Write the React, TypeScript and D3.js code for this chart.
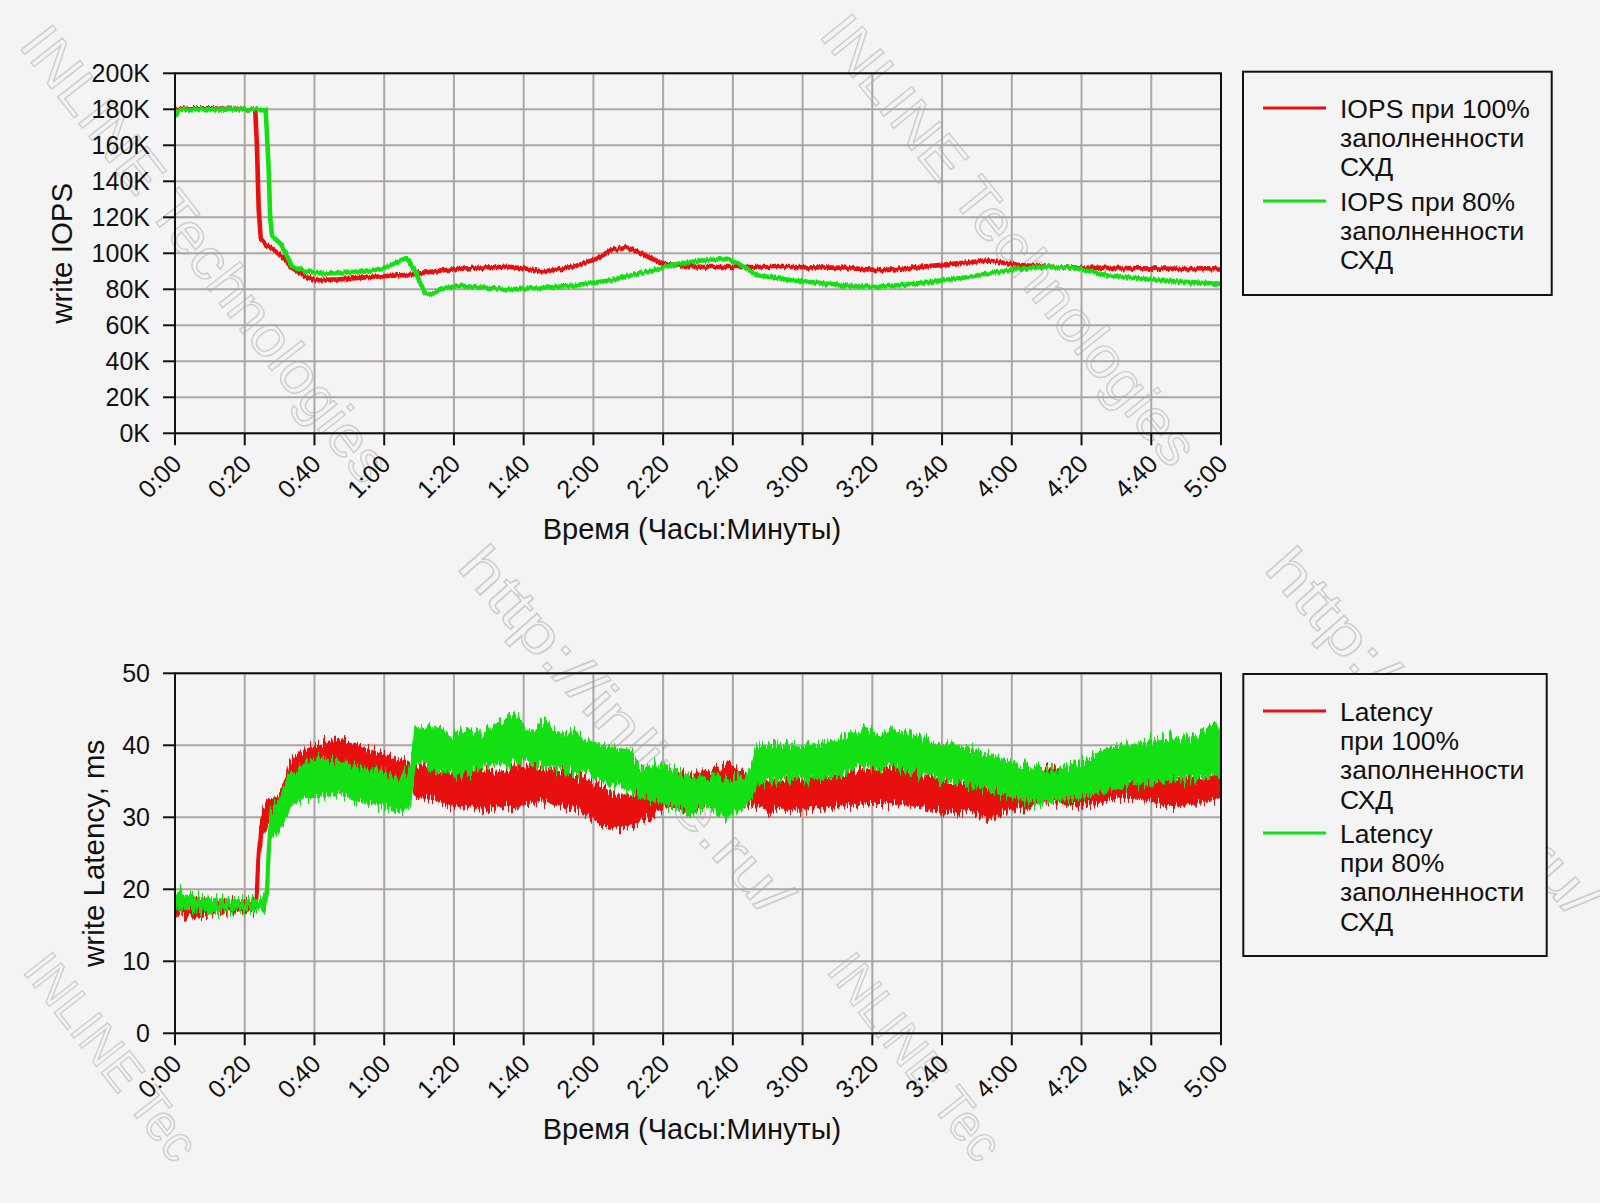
import React from 'react';
import * as d3 from 'd3';

// ---------- data ----------
const timeTicks = [0, 20, 40, 60, 80, 100, 120, 140, 160, 180, 200, 220, 240, 260, 280, 300];
const timeTickLabels = ['0:00', '0:20', '0:40', '1:00', '1:20', '1:40', '2:00', '2:20', '2:40', '3:00', '3:20', '3:40', '4:00', '4:20', '4:40', '5:00'];
const iopsTicks = [0, 20, 40, 60, 80, 100, 120, 140, 160, 180, 200];
const iopsTickLabels = ['0K', '20K', '40K', '60K', '80K', '100K', '120K', '140K', '160K', '180K', '200K'];
const latencyTicks = [0, 10, 20, 30, 40, 50];
const latencyTickLabels = ['0', '10', '20', '30', '40', '50'];

// IOPS, thousands
const iops100Minutes = [0, 5, 10, 15, 20, 23, 23.5, 24, 24.6, 26, 27.7, 30.6, 33.5, 37.4, 40.3, 47, 57, 66.8, 76.5, 86, 95.6, 100.5, 105, 110, 115, 121, 125, 129, 133, 136.7, 140.6, 146.4, 151, 160, 177, 192, 203, 217, 233, 242, 252, 267, 282, 300];
const iops100Values = [180, 180.5, 180.5, 180.3, 180, 180, 160, 125, 108, 105, 102.6, 98.5, 92, 87, 85, 85.5, 87, 88, 90.5, 92, 92.5, 91.5, 90, 91, 93, 97, 101.7, 103.5, 100.7, 97, 94, 93, 92.5, 92.4, 92.4, 91.9, 90.5, 93, 96, 93.5, 92.4, 91.9, 91.5, 91];
const iops80Minutes = [0, 1, 5, 10, 15, 20, 26, 26.8, 27.3, 27.8, 28.6, 30.6, 32, 33.5, 37.4, 42, 52, 57, 62, 66, 67, 69, 71.5, 73, 77, 82, 86, 95.6, 105, 115, 125, 134.8, 144.6, 151, 158.5, 162.4, 167, 177, 192, 201, 212, 227, 242, 252, 259, 267, 277, 287, 300];
const iops80Values = [176, 179.5, 180, 180, 179.8, 180, 180, 150, 120, 110, 108.5, 104.5, 99, 93, 90, 88.7, 89.3, 90.5, 93.3, 97.4, 96, 89.6, 78.5, 77, 80.4, 82, 81.3, 80, 80.7, 82.2, 85, 89.6, 94.3, 96, 97, 93.3, 87.8, 85, 82.2, 81.3, 83, 86.7, 91.5, 92.4, 91.9, 87.8, 86, 84.4, 83];

// Latency, ms: lower / upper envelope of the noisy trace
const latency100Minutes = [0, 5, 10, 15, 20, 23, 23.5, 24.3, 25, 26.5, 29.3, 31.2, 33, 37, 41.7, 47.4, 52, 56, 60.8, 65.5, 69.3, 75, 79.8, 84.6, 89, 94, 100, 104.8, 110.5, 116.3, 120, 125.8, 130.6, 135.4, 140.2, 146.9, 152.6, 159.3, 164, 170.8, 180.4, 190, 200, 207, 214, 220.6, 228, 233, 239.7, 245.5, 251, 257, 264.6, 271, 279, 285.6, 293.3, 300];
const latency100Low = [16.5, 16.2, 16.6, 16.7, 16.8, 17, 17.5, 24, 27.3, 28.7, 30, 31, 34.2, 34.2, 35.6, 35.6, 36, 34.7, 34.2, 33.8, 32.8, 32.4, 31.5, 31.5, 31, 31.5, 31.5, 32.4, 31.5, 31, 29.6, 28.2, 29.1, 29.6, 31.5, 31, 31.9, 32.8, 31.9, 31, 31, 31.5, 32, 31.9, 31.5, 30.5, 31, 29.6, 31, 31.5, 32.4, 31.5, 31.9, 32.8, 32.4, 31.5, 31.9, 32.8];
const latency100High = [18.5, 18.3, 18.2, 18.3, 18.2, 18.8, 24, 29, 30.5, 32.4, 32.8, 34.5, 38, 39.3, 40.2, 41, 40, 39.3, 38.6, 37.9, 37, 37, 36.5, 37, 36.5, 36.5, 37.5, 36.5, 36.3, 35.6, 34.7, 33.3, 32.8, 34.2, 35.6, 36, 36.5, 37.5, 35.6, 35.2, 35.6, 36, 36.8, 37, 36, 35.2, 35.2, 34.7, 34.2, 34.7, 37, 35.2, 35.2, 35.2, 35.6, 35.6, 36, 36];
const latency80Minutes = [0, 3, 8, 15, 20, 25, 26, 26.8, 27.4, 30.3, 33, 37, 41.7, 46.5, 51.2, 56, 60.8, 64.6, 67.4, 68.9, 71.2, 75, 79.8, 84.6, 89, 97, 101.7, 105.3, 110.5, 118.2, 124, 130.6, 133.5, 139.2, 144, 146.9, 152.6, 158.4, 164, 167, 171.8, 180.4, 190, 196.7, 202.4, 205.3, 211, 218.7, 226.3, 233, 239.7, 247.4, 253, 260.8, 268.4, 276, 285.6, 293.3, 298.6, 300];
const latency80Low = [17.5, 17, 16.9, 17, 17, 17, 17.5, 20, 27.3, 28.7, 31.5, 32.8, 32.8, 33.3, 32.4, 31.9, 31.5, 30.3, 31.5, 37, 37.5, 36.5, 36, 36, 37, 37.5, 37.9, 37, 36.5, 36, 34.7, 33.8, 32.8, 31.9, 31.5, 30.5, 31.5, 30, 31.5, 34.7, 35.2, 35.2, 35.6, 37, 36.5, 37, 36.5, 35.2, 34.7, 33.8, 32.8, 31.9, 32.4, 32.8, 33.8, 34.7, 35.2, 35.6, 36, 36];
const latency80High = [19.5, 19.3, 18.8, 18.6, 18.5, 18.5, 20, 27.8, 31, 32.8, 36, 37.5, 38.4, 37.5, 37, 36.5, 36, 35.6, 37, 42, 43, 42, 41.6, 42, 42, 44.4, 41.6, 43.2, 42, 41, 39.8, 39.3, 37, 37.5, 36.5, 36, 35.6, 35.2, 36, 39.8, 40.2, 39.8, 40.7, 42.5, 41.6, 42.5, 41.6, 40.2, 39.8, 38.8, 37.5, 37, 36.5, 37.9, 39.8, 40.2, 41, 41, 43, 40.7];

const iopsLegend = [
  ['IOPS при 100%', 'заполненности', 'СХД'],
  ['IOPS при 80%', 'заполненности', 'СХД'],
];
const latencyLegend = [
  ['Latency', 'при 100%', 'заполненности', 'СХД'],
  ['Latency', 'при 80%', 'заполненности', 'СХД'],
];

// ---------- style ----------
const RED = '#e80f0f';
const GREEN = '#12e012';
const GRID = '#aba6a2';
const BG = '#f4f4f4';
const FONT = '"Liberation Sans", Arial, sans-serif';
const PLOT_L = 175;
const PLOT_R = 1221;

type Line = { minutes: number[]; values: number[]; color: string };
type Band = { minutes: number[]; low: number[]; high: number[]; color: string; filter: string };

function Panel(props: {
  top: number; bottom: number; yMax: number; yTicks: number[]; yTickLabels: string[];
  yTitle: string; yTitleX: number; lines: Line[]; bands: Band[];
  legend: string[][]; legendBox: [number, number, number, number]; legendLineY: number[]; legendGap: number;
}) {
  const { top, bottom } = props;
  const x = d3.scaleLinear().domain([0, 300]).range([PLOT_L, PLOT_R]);
  const y = d3.scaleLinear().domain([0, props.yMax]).range([bottom, top]);
  const colors = [RED, GREEN];
  const [lx, ly, lw, lh] = props.legendBox;
  const clipId = 'clip' + Math.round(top);
  return (
    <g>
      <defs>
        <clipPath id={clipId}>
          <rect x={PLOT_L} y={top} width={PLOT_R - PLOT_L} height={bottom - top} />
        </clipPath>
      </defs>
      {props.yTicks.map((t) => (
        <line key={'gy' + t} x1={PLOT_L} x2={PLOT_R} y1={y(t)} y2={y(t)} stroke={GRID} strokeWidth={2} />
      ))}
      {timeTicks.map((t) => (
        <line key={'gx' + t} x1={x(t)} x2={x(t)} y1={top} y2={bottom} stroke={GRID} strokeWidth={2} />
      ))}
      <g clipPath={`url(#${clipId})`}>
        {props.bands.map((b, k) => {
          const area = d3.area<number>()
            .x((_, i) => x(b.minutes[i]))
            .y0((_, i) => y(b.low[i]))
            .y1((_, i) => y(b.high[i]));
          return (
            <path key={'b' + k} d={area(b.low) || ''} fill={b.color} stroke={b.color} strokeWidth={1.5}
              filter={`url(#${b.filter})`} />
          );
        })}
        {props.lines.map((s, k) => {
          const line = d3.line<number>().x((_, i) => x(s.minutes[i])).y((v) => y(v));
          return (
            <path key={'l' + k} d={line(s.values) || ''} fill="none" stroke={s.color} strokeWidth={4.6}
              strokeLinejoin="round" filter="url(#jitterSmall)" />
          );
        })}
      </g>
      <rect x={PLOT_L} y={top} width={PLOT_R - PLOT_L} height={bottom - top} fill="none" stroke="#111" strokeWidth={2} />
      {props.yTicks.map((t, i) => (
        <g key={'yt' + t}>
          <line x1={PLOT_L - 12} x2={PLOT_L} y1={y(t)} y2={y(t)} stroke="#111" strokeWidth={2} />
          <text x={150} y={y(t)} dy="0.36em" textAnchor="end" fontSize={25} fontFamily={FONT} fill="#111">
            {props.yTickLabels[i]}
          </text>
        </g>
      ))}
      {timeTicks.map((t, i) => (
        <g key={'xt' + t}>
          <line x1={x(t)} x2={x(t)} y1={bottom} y2={bottom + 12} stroke="#111" strokeWidth={2} />
          <text transform={`translate(${x(t) + 8},${bottom + 32}) rotate(-45)`} textAnchor="end"
            fontSize={25} fontFamily={FONT} fill="#111">
            {timeTickLabels[i]}
          </text>
        </g>
      ))}
      <text x={(PLOT_L + PLOT_R) / 2 - 6} y={bottom + 106} textAnchor="middle" fontSize={29} fontFamily={FONT} fill="#111">
        Время (Часы:Минуты)
      </text>
      <text transform={`translate(${props.yTitleX},${(top + bottom) / 2}) rotate(-90)`} textAnchor="middle"
        fontSize={29.5} fontFamily={FONT} fill="#111">
        {props.yTitle}
      </text>
      <rect x={lx} y={ly} width={lw} height={lh} fill={BG} stroke="#111" strokeWidth={2} />
      {props.legend.map((entry, k) => (
        <g key={'lg' + k}>
          <line x1={1263} x2={1326} y1={props.legendLineY[k]} y2={props.legendLineY[k]} stroke={colors[k]} strokeWidth={3} />
          {entry.map((txt, j) => (
            <text key={j} x={1340} y={props.legendLineY[k] + j * props.legendGap} dy="0.36em"
              fontSize={26.5} fontFamily={FONT} fill="#111">
              {txt}
            </text>
          ))}
        </g>
      ))}
    </g>
  );
}

// faint diagonal watermarks of the source image (start point, angle, text length)
const watermarks = [
  { text: 'INLINE Technologies', sx: 34, sy: 33, angle: 52, len: 560, size: 58 },
  { text: 'INLINE Technologies', sx: 834, sy: 22, angle: 51, len: 560, size: 58 },
  { text: 'http://inline.ru/', sx: 471, sy: 554, angle: 48.5, len: 470, size: 58 },
  { text: 'http://inline.ru/', sx: 1278, sy: 556, angle: 48.5, len: 470, size: 58 },
  { text: 'INLINE Tec', sx: 36, sy: 960, angle: 52, len: 246, size: 52 },
  { text: 'INLINE Tec', sx: 840, sy: 960, angle: 52, len: 246, size: 52 },
];

export default function App() {
  return (
    <svg width={1600} height={1203} style={{ position: 'absolute', left: 0, top: 0, background: BG }}>
      <defs>
        <filter id="jitterA" x="-2%" y="-30%" width="104%" height="160%" colorInterpolationFilters="sRGB">
          <feTurbulence type="fractalNoise" baseFrequency="0.5 0.02" numOctaves={2} seed={3} result="n" />
          <feColorMatrix in="n" type="matrix" values="1 0 0 0 0  0 0 0 0 0.5  0 0 0 0 0  0 0 0 0 1" result="m" />
          <feDisplacementMap in="SourceGraphic" in2="m" scale={24} xChannelSelector="G" yChannelSelector="R" />
        </filter>
        <filter id="jitterB" x="-2%" y="-30%" width="104%" height="160%" colorInterpolationFilters="sRGB">
          <feTurbulence type="fractalNoise" baseFrequency="0.5 0.02" numOctaves={2} seed={11} result="n" />
          <feColorMatrix in="n" type="matrix" values="1 0 0 0 0  0 0 0 0 0.5  0 0 0 0 0  0 0 0 0 1" result="m" />
          <feDisplacementMap in="SourceGraphic" in2="m" scale={24} xChannelSelector="G" yChannelSelector="R" />
        </filter>
        <filter id="jitterSmall" x="-2%" y="-10%" width="104%" height="120%" colorInterpolationFilters="sRGB">
          <feTurbulence type="fractalNoise" baseFrequency="0.6 0.05" numOctaves={1} seed={5} result="n" />
          <feColorMatrix in="n" type="matrix" values="1 0 0 0 0  0 0 0 0 0.5  0 0 0 0 0  0 0 0 0 1" result="m" />
          <feDisplacementMap in="SourceGraphic" in2="m" scale={6} xChannelSelector="G" yChannelSelector="R" />
        </filter>
      </defs>
      <rect x={0} y={0} width={1600} height={1203} fill={BG} />
      {watermarks.map((w, i) => (
        <text key={'wm' + i} transform={`translate(${w.sx},${w.sy}) rotate(${w.angle})`} textAnchor="start"
          dominantBaseline="central" fontSize={w.size} fontFamily={FONT} fill="none" stroke="#cdcdcd" strokeWidth={1.4}
          textLength={w.len} lengthAdjust="spacingAndGlyphs">
          {w.text}
        </text>
      ))}
      <Panel top={73.3} bottom={433.3} yMax={200} yTicks={iopsTicks} yTickLabels={iopsTickLabels}
        yTitle="write IOPS" yTitleX={72} bands={[]}
        lines={[
          { minutes: iops100Minutes, values: iops100Values, color: RED },
          { minutes: iops80Minutes, values: iops80Values, color: GREEN },
        ]}
        legend={iopsLegend} legendBox={[1243, 71.7, 308.7, 223.3]} legendLineY={[108, 201]} legendGap={29.2} />
      <Panel top={673.3} bottom={1033.3} yMax={50} yTicks={latencyTicks} yTickLabels={latencyTickLabels}
        yTitle="write Latency, ms" yTitleX={104} lines={[]}
        bands={[
          { minutes: latency100Minutes, low: latency100Low, high: latency100High, color: RED, filter: 'jitterA' },
          { minutes: latency80Minutes, low: latency80Low, high: latency80High, color: GREEN, filter: 'jitterB' },
        ]}
        legend={latencyLegend} legendBox={[1243.3, 674, 303.4, 282]} legendLineY={[711, 833]} legendGap={29.4} />
    </svg>
  );
}
